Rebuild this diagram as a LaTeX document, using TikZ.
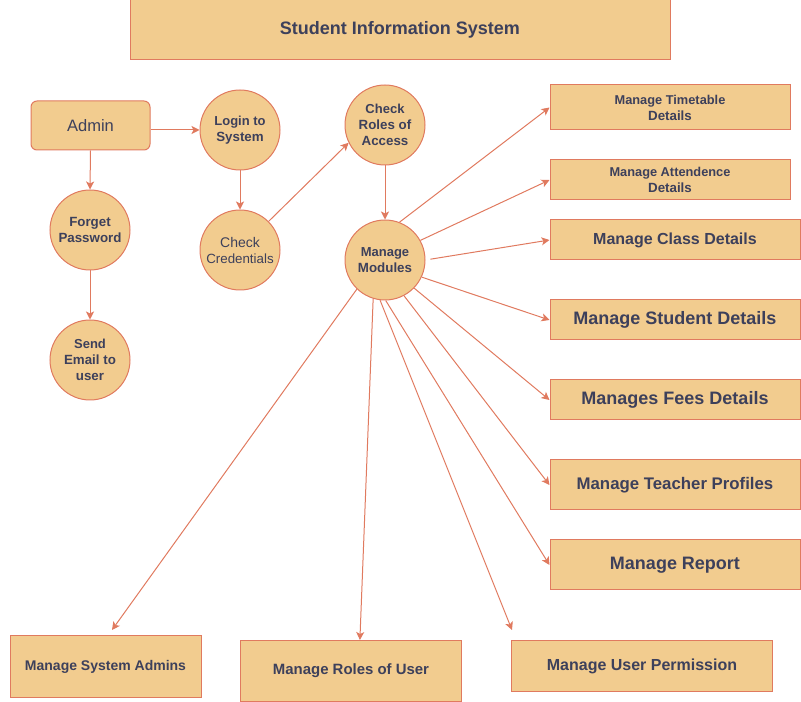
\documentclass[tikz,border=0pt]{standalone}
\usepackage{fontspec}
\setmainfont{Liberation Sans}
\usetikzlibrary{arrows.meta}
\definecolor{boxfill}{HTML}{F2CC8F}
\definecolor{boxline}{HTML}{E07A5F}
\definecolor{boxtext}{HTML}{3D405B}
\begin{document}
\begin{tikzpicture}[x=0.75pt,y=-0.75pt]
	\tikzstyle{module}=[draw=boxline,fill=boxfill,text=boxtext,line width=0.75pt,inner sep=0pt,align=center,font=\bfseries]
	\tikzstyle{process}=[module,circle,minimum size=60pt]
	\tikzstyle{flow}=[draw=boxline,line width=0.75pt,-{Stealth[length=6pt,width=6pt,inset=1.5pt]}]
	\useasboundingbox (0,0) rectangle (801,702);
	% top
	\node (title) [module, minimum width=405pt, minimum height=45pt] at (400,30) {\fontsize{13.5}{16}\selectfont Student Information System};
	\node (admin) [module, rounded corners=4.5pt, minimum width=89.25pt, minimum height=36.75pt, font=\mdseries] at (90.5,125.5) {\fontsize{12.4}{15}\selectfont Admin};
	% processes
	\node (login) [process] at (240,130) {\fontsize{9.75}{12}\selectfont Login to\\System};
	\node (cred) [process, font=\mdseries] at (240,250) {\fontsize{10.5}{12}\selectfont Check\\Credentials};
	\node (roles) [process] at (385,125) {\fontsize{9.75}{11.5}\selectfont Check\\Roles of\\Access};
	\node (modules) [process] at (385,260) {\fontsize{9.75}{12}\selectfont Manage\\Modules};
	\node (forget) [process] at (90,230) {\fontsize{10}{12}\selectfont Forget\\Password};
	\node (email) [process] at (90,360) {\fontsize{9.75}{11.5}\selectfont Send\\Email to\\user};
	% right column
	\node (timetable) [module, minimum width=180pt, minimum height=33.75pt] at (670,107.5) {\fontsize{9.6}{12}\selectfont Manage Timetable\\Details};
	\node (attend) [module, minimum width=180pt, minimum height=30pt] at (670,180) {\fontsize{9.6}{12}\selectfont Manage Attendence\\Details};
	\node (class) [module, minimum width=187.5pt, minimum height=30pt] at (675,240) {\fontsize{12}{14}\selectfont Manage Class Details};
	\node (student) [module, minimum width=187.5pt, minimum height=30pt] at (675,320) {\fontsize{13.5}{16}\selectfont Manage Student Details};
	\node (fees) [module, minimum width=187.5pt, minimum height=30pt] at (675,400) {\fontsize{13.5}{16}\selectfont Manages Fees Details};
	\node (teacher) [module, minimum width=187.5pt, minimum height=37.5pt] at (675,485) {\fontsize{12.6}{15}\selectfont Manage Teacher Profiles};
	\node (report) [module, minimum width=187.5pt, minimum height=37.5pt] at (675,565) {\fontsize{13.5}{16}\selectfont Manage Report};
	% bottom row
	\node (sysadm) [module, minimum width=143.25pt, minimum height=46.5pt] at (105.5,666.5) {\fontsize{10.5}{13}\selectfont Manage System Admins};
	\node (rolesu) [module, minimum width=165.75pt, minimum height=45.75pt] at (351,671) {\fontsize{11.2}{13}\selectfont Manage Roles of User};
	\node (perm) [module, minimum width=195.75pt, minimum height=38.25pt] at (642,666) {\fontsize{12}{14}\selectfont Manage User Permission};
	\coordinate (sysend) at (112,630);
	\coordinate (permend) at (512,630);
	% connectors
	\draw[flow] (admin.east |- login) -- (login.west);
	\draw[flow] (admin.south) -- (forget.north);
	\draw[flow] (forget.south) -- (email.north);
	\draw[flow] (login.south) -- (cred.north);
	\draw[flow] (cred.45) -- (roles.206);
	\draw[flow] (roles.south) -- (modules.north);
	\draw[flow] (modules.69) -- (timetable.west);
	\draw[flow] (modules.29) -- (attend.west);
	\draw[flow, shorten <=3.75pt] (modules.east) -- (class.west);
	\draw[flow] (modules.-25) -- (student.west);
	\draw[flow] (modules.-44) -- (fees.west);
	\draw[flow] (modules.-62) -- (teacher.west);
	\draw[flow] (modules.-89) -- (report.west);
	\draw[flow] (modules.-97) -- (permend);
	\draw[flow] (modules.-107) -- (rolesu.74);
	\draw[flow] (modules.-134) -- (sysend);
\end{tikzpicture}
\end{document}
